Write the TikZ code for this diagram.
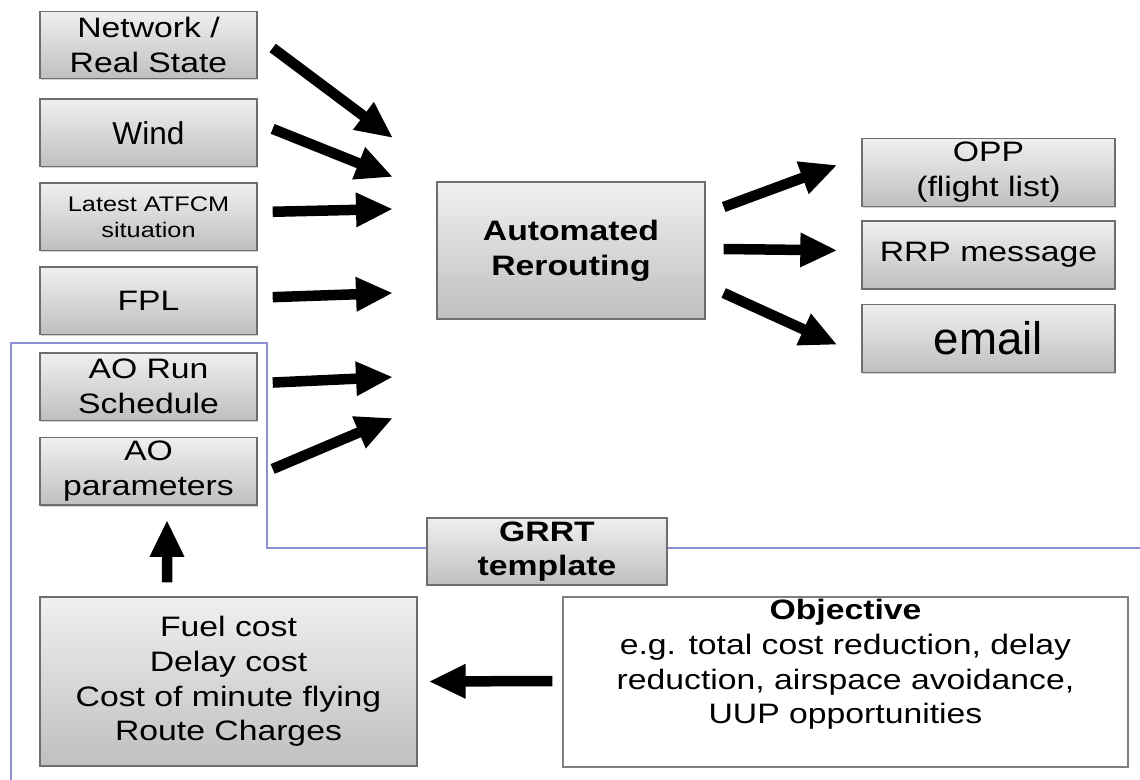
\documentclass[tikz,border=0pt]{standalone}
\usepackage{fontspec}
\setmainfont{Liberation Sans}[FakeStretch=1.2]
\newfontfamily\plainsans{Liberation Sans}
\usetikzlibrary{arrows.meta,positioning,shadows}
\definecolor{zoneline}{HTML}{8F8FD6}
\definecolor{boxline}{HTML}{6E6E6E}
\newcommand\boxfont{\fontsize{16}{19.8}\selectfont}

\begin{document}
\begin{tikzpicture}[x=0.02cm, y=-0.02cm,
    every node/.style={font=\boxfont, align=center, inner sep=0pt},
    greybox/.style={draw=boxline, line width=0.8pt, top color=gray!12, bottom color=gray!50,
        drop shadow={opacity=0.35, shadow xshift=0.6pt, shadow yshift=-0.8pt}},
    inbox/.style={greybox, minimum width=4.34cm, minimum height=1.35cm},
    outbox/.style={greybox, minimum width=5.06cm, minimum height=1.36cm},
    bigarrow/.style={line width=0.21cm, -{Triangle[length=0.74cm, width=0.64cm]}}]
    \useasboundingbox (0,0) rectangle (1140,780);

    % GRRT template zone
    \draw[zoneline, line width=0.9pt] (11,780) -- (11,343) -- (267,343) -- (267,548) -- (1140,548);

    % inputs
    \node[inbox] (net) at (148.5,45) {Network /\\ Real State};
    \node[inbox, below=0.38cm of net, font=\plainsans\fontsize{18}{22}\selectfont] (wind) {Wind};
    \node[inbox, below=0.3cm of wind, font=\fontsize{12}{14.8}\selectfont] (atfcm) {Latest ATFCM\\ situation};
    \node[inbox, below=0.3cm of atfcm] (fpl) {FPL};
    \node[inbox, below=0.34cm of fpl] (aorun) {AO Run\\ Schedule};
    \node[inbox, below=0.32cm of aorun] (aopar) {AO\\ parameters};

    \node[greybox, minimum width=5.36cm, minimum height=2.74cm, font=\boxfont\bfseries] (auto) at (571,250.5) {Automated\\ Rerouting};

    % outputs
    \node[outbox] (opp) at (988.5,172.5) {OPP\\ (flight list)};
    \node[outbox, below=0.26cm of opp] (rrp) {RRP message};
    \node[outbox, below=0.28cm of rrp, font=\plainsans\fontsize{26}{30}\selectfont] (email) {email};

    \node[greybox, minimum width=4.8cm, minimum height=1.34cm, font=\boxfont\bfseries] (grrt) at (547,551.5) {GRRT\\ template};

    \node[greybox, minimum width=7.54cm, minimum height=3.38cm] (fuel) at (228.5,681.5) {Fuel cost\\ Delay cost\\ Cost of minute flying\\ Route Charges};
    \node[draw=gray, fill=white, line width=0.8pt, minimum width=11.3cm, minimum height=3.4cm,
        drop shadow={opacity=0.25, shadow xshift=0.6pt, shadow yshift=-0.8pt}] (obj) at (845.5,682) {};
    \node[anchor=north] (objtext) at ([yshift=-0.05cm]obj.north) {\textbf{Objective}\\ e.g. total cost reduction, delay\\ reduction, airspace avoidance,\\ UUP opportunities};

    \coordinate (in1) at (393,138);
    \coordinate (in2) at (393,177);
    \coordinate (in3) at (393,209);
    \coordinate (in4) at (393,293);
    \coordinate (in5) at (393,377);
    \coordinate (in6) at (393,418);

    \draw[bigarrow] ([shift={(15,3)}]net.east) -- (in1);
    \draw[bigarrow] ([shift={(15,-4)}]wind.east) -- (in2);
    \draw[bigarrow] ([shift={(15,-5)}]atfcm.east) -- (in3);
    \draw[bigarrow] ([shift={(15,-3.5)}]fpl.east) -- (in4);
    \draw[bigarrow] ([shift={(15,-4)}]aorun.east) -- (in5);
    \draw[bigarrow] ([shift={(15,-2.5)}]aopar.east) -- (in6);

    \draw[bigarrow] ([shift={(18,-43.5)}]auto.east) -- ([shift={(-24,-7.5)}]opp.west);
    \draw[bigarrow] ([shift={(18,-1.5)}]auto.east) -- ([shift={(-24,-4.5)}]rrp.west);
    \draw[bigarrow] ([shift={(18,42.5)}]auto.east) -- ([shift={(-24,6.5)}]email.west);

    \draw[bigarrow] ([shift={(-61.5,-14)}]fuel.north) -- ([shift={(18.5,14)}]aopar.south);
    \draw[bigarrow] ([shift={(-10,-1)}]obj.west) -- ([shift={(11,0)}]fuel.east);
\end{tikzpicture}
\end{document}
